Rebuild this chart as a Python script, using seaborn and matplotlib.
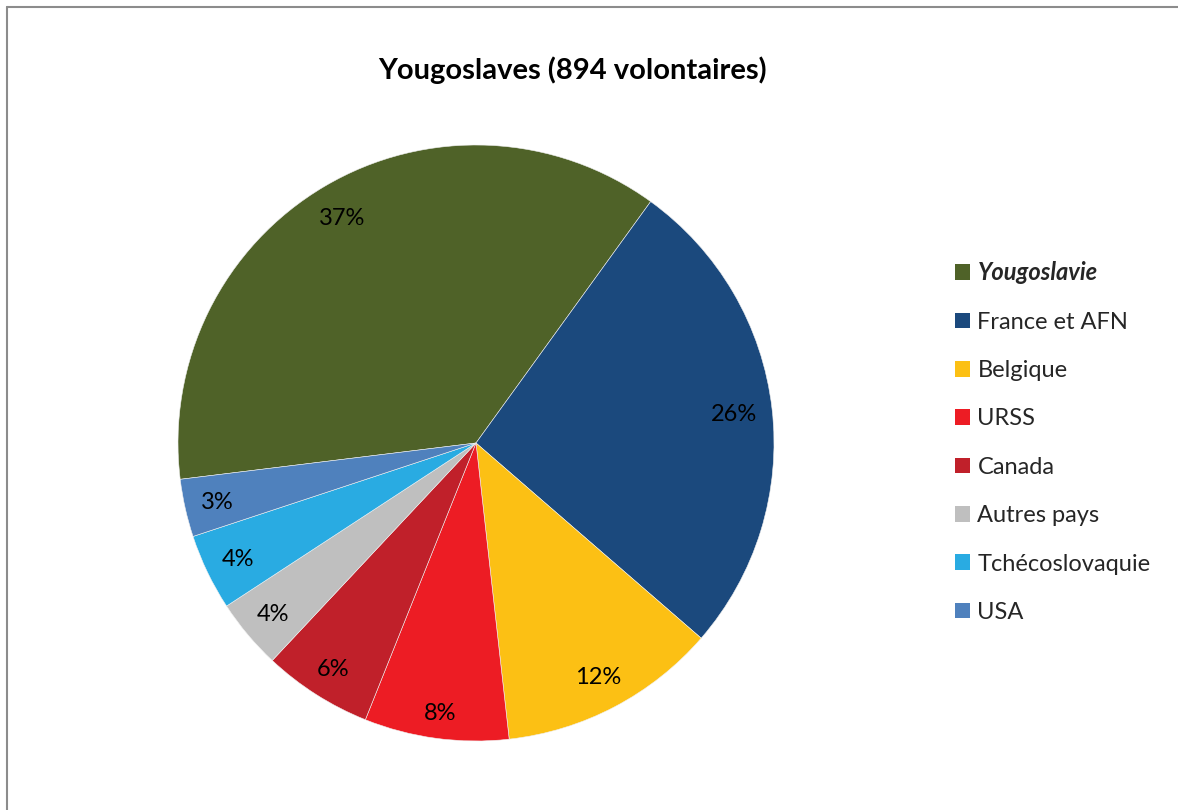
import matplotlib
matplotlib.use("Agg")
import numpy as np
import matplotlib.pyplot as plt
import seaborn as sns
from matplotlib.lines import Line2D

categories = ["Yougoslavie", "France et AFN", "Belgique", "URSS", "Canada",
              "Autres pays", "Tchécoslovaquie", "USA"]
volunteers = [330, 236, 106, 70, 53, 34, 37, 28]
colors = ["#4F6228", "#1B497D", "#FCC014", "#ED1C24", "#C0202A",
          "#BFBFBF", "#29ABE2", "#4F81BD"]
title = "Yougoslaves (894 volontaires)"

sns.set_theme(style="white")
plt.rcParams["font.family"] = ["Lato", "DejaVu Sans"]

fig = plt.figure(figsize=(11.78, 8.10), dpi=100)
fig.patch.set_facecolor("white")

W, H = 1178, 810
cx, cy, r = 476, 443, 298
ax = fig.add_axes([(cx - r) / W, (H - cy - r) / H, 2 * r / W, 2 * r / H])

palette = sns.color_palette(colors)
wedges, texts, autotexts = ax.pie(
    volunteers, colors=palette, startangle=187, counterclock=False,
    autopct=lambda p: f"{p:.0f}%", pctdistance=0.87, radius=1,
    wedgeprops=dict(edgecolor="#f0f0f0", linewidth=0.4),
    textprops=dict(fontsize=17, color="black"))
ax.set_xlim(-1, 1)
ax.set_ylim(-1, 1)
ax.set_aspect("auto")
ax.axis("off")

# place labels like Excel: outer corner of the label box at a fixed radius
fig.canvas.draw()
renderer = fig.canvas.get_renderer()
R_out = 0.952
for w, t in zip(wedges, autotexts):
    th = np.deg2rad((w.theta1 + w.theta2) / 2)
    ux, uy = np.cos(th), np.sin(th)
    bb = t.get_window_extent(renderer)
    hw, hh = bb.width / 2 / r, bb.height / 2 / r
    ccx, ccy = np.copysign(hw, ux), np.copysign(hh, uy)
    d = ux * ccx + uy * ccy
    rho = -d + np.sqrt(d * d - (ccx ** 2 + ccy ** 2) + R_out ** 2)
    t.set_position((rho * ux, rho * uy - 0.006))

fig.text(572 / W, 1 - 70 / H, title, ha="center", va="center",
         fontsize=21, fontweight="bold", color="black")

leg = fig.legend(wedges, categories, loc="upper left",
                 bbox_to_anchor=(934 / W, 1 - 240 / H), frameon=False,
                 handlelength=0.64, handleheight=0.64, handletextpad=0.3,
                 labelspacing=1.16, fontsize=17)
for h in leg.legend_handles:
    h.set_edgecolor("none")
leg.get_texts()[0].set_fontweight("bold")
leg.get_texts()[0].set_fontstyle("italic")

# chart frame (top and left edges visible)
fig.add_artist(Line2D([7 / W, 1.0], [1 - 6.5 / H, 1 - 6.5 / H],
                      transform=fig.transFigure, color="#8c8c8c", lw=1.5))
fig.add_artist(Line2D([7 / W, 7 / W], [0, 1 - 6.5 / H],
                      transform=fig.transFigure, color="#8c8c8c", lw=1.5))

fig.savefig("out.png", dpi=100, facecolor="white")
